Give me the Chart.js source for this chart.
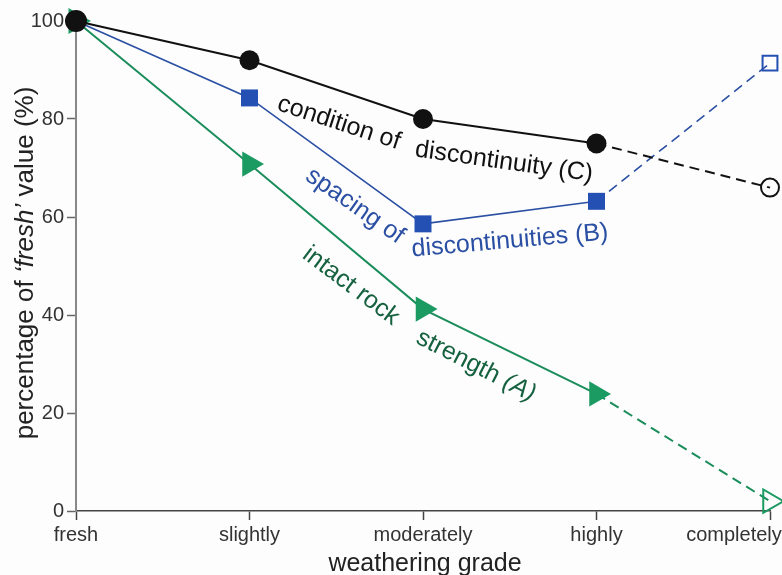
<!DOCTYPE html>
<html>
<head>
<meta charset="utf-8">
<script src="https://cdn.jsdelivr.net/npm/chart.js@4.4.1/dist/chart.umd.min.js"></script>
<style>
  html, body { margin: 0; padding: 0; background: #fdfdfd; }
  #wrap { width: 782px; height: 575px; }
</style>
</head>
<body>
<div id="wrap"><canvas id="weatherChart" width="782" height="575"></canvas></div>
<script>
// Data (percentage of 'fresh' value)
const grades = ['fresh', 'slightly', 'moderately', 'highly', 'completely'];
const conditionC = [100, 92, 80, 75, 66];
const spacingB = [100, 84.3, 58.6, 63.2, 91.4];
const strengthA = [100, 70.8, 41.2, 23.9, 2.0];
const yTicks = [0, 20, 40, 60, 80, 100];

const FONT = "'Liberation Sans', Arial, Helvetica, sans-serif";
const BLACK = '#111111';
const BLUE = '#2a4fa3';
const BLUE_MARK = '#2350b2';
const GREEN = '#1b8d5b';
const GREEN_MARK = '#1b9a62';

Chart.defaults.font.family = FONT;

// last segment of every series is an extrapolation -> dashed
const dashLast = ctx => ctx.p1DataIndex === grades.length - 1 ? [10, 6] : undefined;

// inline labels that follow the lines: text runs [text, italic], centre, angle
const lineLabels = [
  { runs: [['condition of', false]], x: 339, y: 123, angle: 18, color: BLACK },
  { runs: [['discontinuity (C)', false]], x: 504, y: 162, angle: 8, color: BLACK },
  { runs: [['spacing of', false]], x: 355, y: 206, angle: 35, color: BLUE },
  { runs: [['discontinuities (B)', false]], x: 510, y: 241, angle: -5, color: BLUE },
  { runs: [['intact rock', false]], x: 351, y: 286, angle: 37, color: '#16613f' },
  { runs: [['strength ', false], ['(A)', true]], x: 476, y: 366, angle: 27, color: '#16613f' }
];

function drawRuns(ctx, runs, cx, cy, angle, size, color) {
  ctx.save();
  ctx.translate(cx, cy);
  ctx.rotate(angle * Math.PI / 180);
  ctx.fillStyle = color;
  ctx.textBaseline = 'middle';
  ctx.textAlign = 'left';
  let total = 0;
  const widths = runs.map(([t, it]) => {
    ctx.font = (it ? 'italic ' : '') + size + 'px ' + FONT;
    const w = ctx.measureText(t).width;
    total += w;
    return w;
  });
  let x = -total / 2;
  runs.forEach(([t, it], i) => {
    ctx.font = (it ? 'italic ' : '') + size + 'px ' + FONT;
    ctx.fillText(t, x, 0);
    x += widths[i];
  });
  ctx.restore();
}

const annotatePlugin = {
  id: 'annotate',
  beforeDraw(chart) {
    // pull the last category label back inside the canvas, like the original
    const items = chart.scales.x.getLabelItems();
    const last = items[items.length - 1];
    if (last) last.options.translation[0] -= 36;
  },
  afterDraw(chart) {
    const ctx = chart.ctx;
    lineLabels.forEach(l => drawRuns(ctx, l.runs, l.x, l.y, l.angle, 25, l.color));
    drawRuns(ctx, [['percentage of ', false], ['\u2018fresh\u2019', true], [' value (%)', false]],
      26, 263, -90, 26, '#222');
    drawRuns(ctx, [['weathering grade', false]], 425, 564, 0, 25, '#222');
  }
};

new Chart(document.getElementById('weatherChart').getContext('2d'), {
  type: 'line',
  data: {
    labels: grades,
    datasets: [
      {
        label: 'condition of discontinuity (C)', data: conditionC,
        borderColor: BLACK, borderWidth: 2, clip: false,
        segment: { borderDash: dashLast },
        pointStyle: 'circle',
        pointRadius: [11, 10, 10, 10, 9],
        pointBackgroundColor: [BLACK, BLACK, BLACK, BLACK, 'rgba(0,0,0,0)'],
        pointBorderColor: BLACK,
        pointBorderWidth: [0, 0, 0, 0, 2]
      },
      {
        label: 'spacing of discontinuities (B)', data: spacingB,
        borderColor: BLUE, borderWidth: 1.6, clip: false,
        segment: { borderDash: dashLast },
        pointStyle: 'rect',
        pointRadius: [11, 12, 12, 12, 10.5],
        pointBackgroundColor: [BLUE_MARK, BLUE_MARK, BLUE_MARK, BLUE_MARK, 'rgba(0,0,0,0)'],
        pointBorderColor: BLUE_MARK,
        pointBorderWidth: [0, 0, 0, 0, 2]
      },
      {
        label: 'intact rock strength (A)', data: strengthA,
        borderColor: GREEN, borderWidth: 2, clip: false,
        segment: { borderDash: dashLast },
        pointStyle: 'triangle',
        pointRotation: 90,
        pointRadius: [13, 14.5, 14.5, 14.5, 13.5],
        pointBackgroundColor: ['rgba(0,0,0,0)', GREEN_MARK, GREEN_MARK, GREEN_MARK, 'rgba(0,0,0,0)'],
        pointBorderColor: GREEN_MARK,
        pointBorderWidth: [2, 0, 0, 0, 2]
      }
    ]
  },
  options: {
    responsive: false,
    animation: false,
    // no auto padding: the end markers are allowed to run to the canvas edge
    layout: { autoPadding: false, padding: { top: 21, right: 12, left: 0, bottom: 0 } },
    plugins: { legend: { display: false }, tooltip: { enabled: false } },
    scales: {
      x: {
        type: 'category',
        offset: false,
        grid: { drawOnChartArea: false, drawTicks: true, tickLength: 9, color: '#444', tickWidth: 1.5 },
        border: { color: '#444', width: 1.5 },
        ticks: { color: '#333', font: { size: 20 }, padding: 3, maxRotation: 0, autoSkip: false },
        afterFit(scale) {
          scale.height = 64;
          scale.paddingLeft = 0;
          scale.paddingRight = 0;
        }
      },
      y: {
        min: 0, max: 100,
        afterBuildTicks(scale) { scale.ticks = yTicks.map(v => ({ value: v })); },
        grid: { drawOnChartArea: false, drawTicks: true, tickLength: 9, color: '#666', tickWidth: 1.5 },
        border: { color: '#888', width: 2 },
        ticks: { color: '#333', font: { size: 20 }, padding: 3 },
        afterFit(scale) {
          scale.width = 76;
          scale.paddingTop = 0;
          scale.paddingBottom = 0;
        }
      }
    }
  },
  plugins: [annotatePlugin]
});
</script>
</body>
</html>
